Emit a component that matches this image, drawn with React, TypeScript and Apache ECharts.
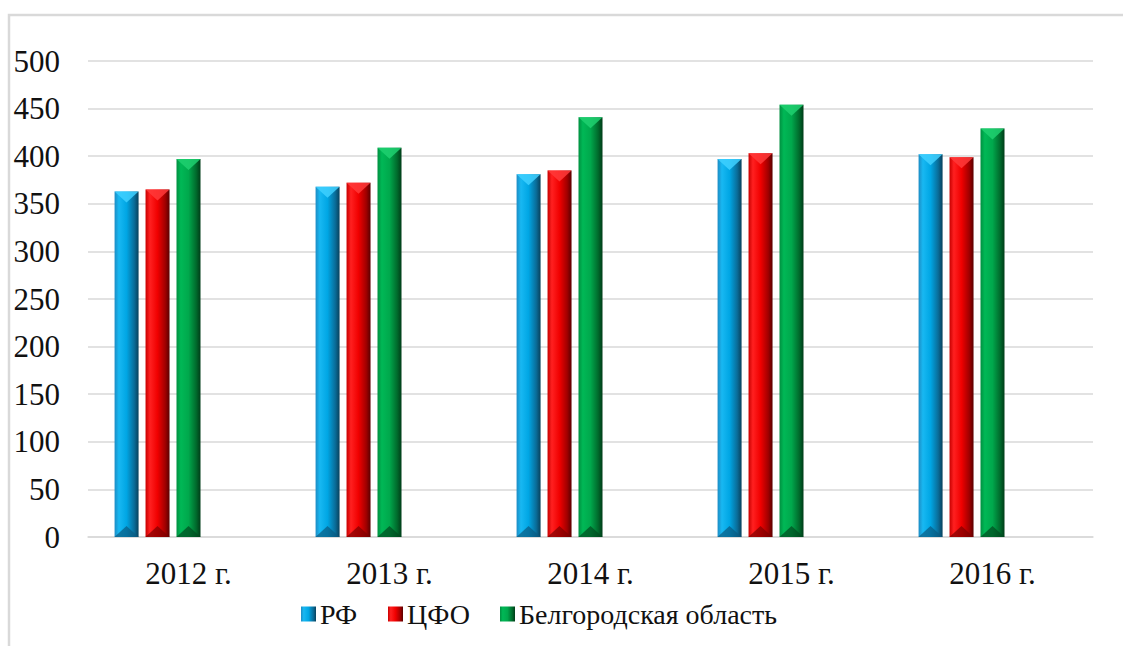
import React, { useEffect, useRef } from "react";
import * as echarts from "echarts";

const categories = ["2012 г.", "2013 г.", "2014 г.", "2015 г.", "2016 г."];
const seriesNames = ["РФ", "ЦФО", "Белгородская область"];
const rfValues = [363, 368, 381, 397, 402];
const cfoValues = [365, 372, 385, 403, 399];
const belValues = [397, 409, 441, 454, 429];
const yTicks = [0, 50, 100, 150, 200, 250, 300, 350, 400, 450, 500];

const FONT = '"Liberation Serif", "Times New Roman", Times, serif';

function grad(left: string, light: string, mid: string, dark: string, edge: string) {
  return new echarts.graphic.LinearGradient(0, 0, 1, 0, [
    { offset: 0, color: left },
    { offset: 0.18, color: light },
    { offset: 0.5, color: mid },
    { offset: 0.82, color: dark },
    { offset: 1, color: edge },
  ]);
}

const topColors = ["#3fd0ff", "#ff3a3a", "#1fd070"];
const bottomColors = ["#0a5a80", "#7a0000", "#004a20"];
const legendLefts = [301, 388, 500];

export default function App() {
  const ref = useRef<HTMLDivElement>(null);
  useEffect(() => {
    if (!ref.current) return;
    const chart = echarts.init(ref.current, undefined, { renderer: "svg" });
    const blue = grad("#1d8cc4", "#18b8f2", "#00a6e4", "#0a6c98", "#08415c");
    const red = grad("#c80000", "#ff2020", "#f00000", "#a00000", "#5a0000");
    const green = grad("#009040", "#00b856", "#00a84c", "#006a2c", "#003c18");
    const bar = (name: string, data: (number | null)[], color: any) => ({
      name,
      type: "bar",
      data,
      barWidth: 24,
      barGap: "29%",
      itemStyle: { color },
    });
    const all = [rfValues, cfoValues, belValues];
    const bevelData: number[][] = [];
    all.forEach((arr, s) => arr.forEach((v, i) => bevelData.push([i, v, s])));
    chart.setOption({
      animation: false,
      backgroundColor: "#ffffff",
      textStyle: { fontFamily: FONT },
      grid: { left: 88, right: 30, top: 61, bottom: 109, containLabel: false },
      xAxis: {
        type: "category",
        data: categories,
        axisLine: { show: true, lineStyle: { color: "#d9d9d9", width: 1.5 } },
        axisTick: { show: false },
        axisLabel: { fontFamily: FONT, fontSize: 31, color: "#111", margin: 21 },
      },
      yAxis: {
        type: "value",
        min: 0,
        max: 500,
        interval: 50,
        axisLine: { show: false },
        axisTick: { show: false },
        splitLine: { lineStyle: { color: "#d9d9d9", width: 1.5 } },
        axisLabel: {
          fontFamily: FONT,
          fontSize: 31,
          color: "#111",
          margin: 28,
          formatter: (v: number) => (yTicks.includes(v) ? String(v) : ""),
        },
      },
      legend: seriesNames.map((n, i) => ({
        data: [n],
        left: legendLefts[i],
        top: 600,
        padding: 0,
        itemWidth: 15,
        itemHeight: 15,
        icon: "rect",
        textStyle: { fontFamily: FONT, fontSize: 28, color: "#111", padding: [0, 0, 0, -1] },
      })),
      graphic: [
        {
          type: "polyline",
          shape: { points: [[9, 646], [9, 15], [1123, 15]] },
          style: { stroke: "#d9d9d9", lineWidth: 2.5, fill: "none" },
          silent: true,
        },
      ],
      series: [
        bar(seriesNames[0], rfValues, blue),
        bar(seriesNames[1], cfoValues, red),
        bar(seriesNames[2], belValues, green),
        bar("_pad1", [null, null, null, null, null], "transparent"),
        bar("_pad2", [null, null, null, null, null], "transparent"),
        {
          name: "_bevel",
          type: "custom",
          data: bevelData,
          encode: { x: 0, y: 1 },
          z: 5,
          silent: true,
          renderItem: (params: any, api: any) => {
            const cat = api.value(0);
            const val = api.value(1);
            const s = api.value(2);
            const top = api.coord([cat, val]);
            const base = api.coord([cat, 0]);
            const cx = top[0] + (s - 2) * 31;
            const hw = 12;
            const d = 11;
            return {
              type: "group",
              children: [
                {
                  type: "polygon",
                  shape: {
                    points: [
                      [cx - hw, top[1]],
                      [cx + hw, top[1]],
                      [cx, top[1] + d],
                    ],
                  },
                  style: { fill: topColors[s], opacity: 0.85 },
                },
                {
                  type: "polygon",
                  shape: {
                    points: [
                      [cx - hw, base[1]],
                      [cx + hw, base[1]],
                      [cx, base[1] - d],
                    ],
                  },
                  style: { fill: bottomColors[s], opacity: 0.7 },
                },
              ],
            };
          },
        },
      ],
    });
    return () => chart.dispose();
  }, []);
  return (
    <div
      ref={ref}
      style={{ position: "fixed", left: 0, top: 0, width: 1123, height: 646 }}
    />
  );
}
